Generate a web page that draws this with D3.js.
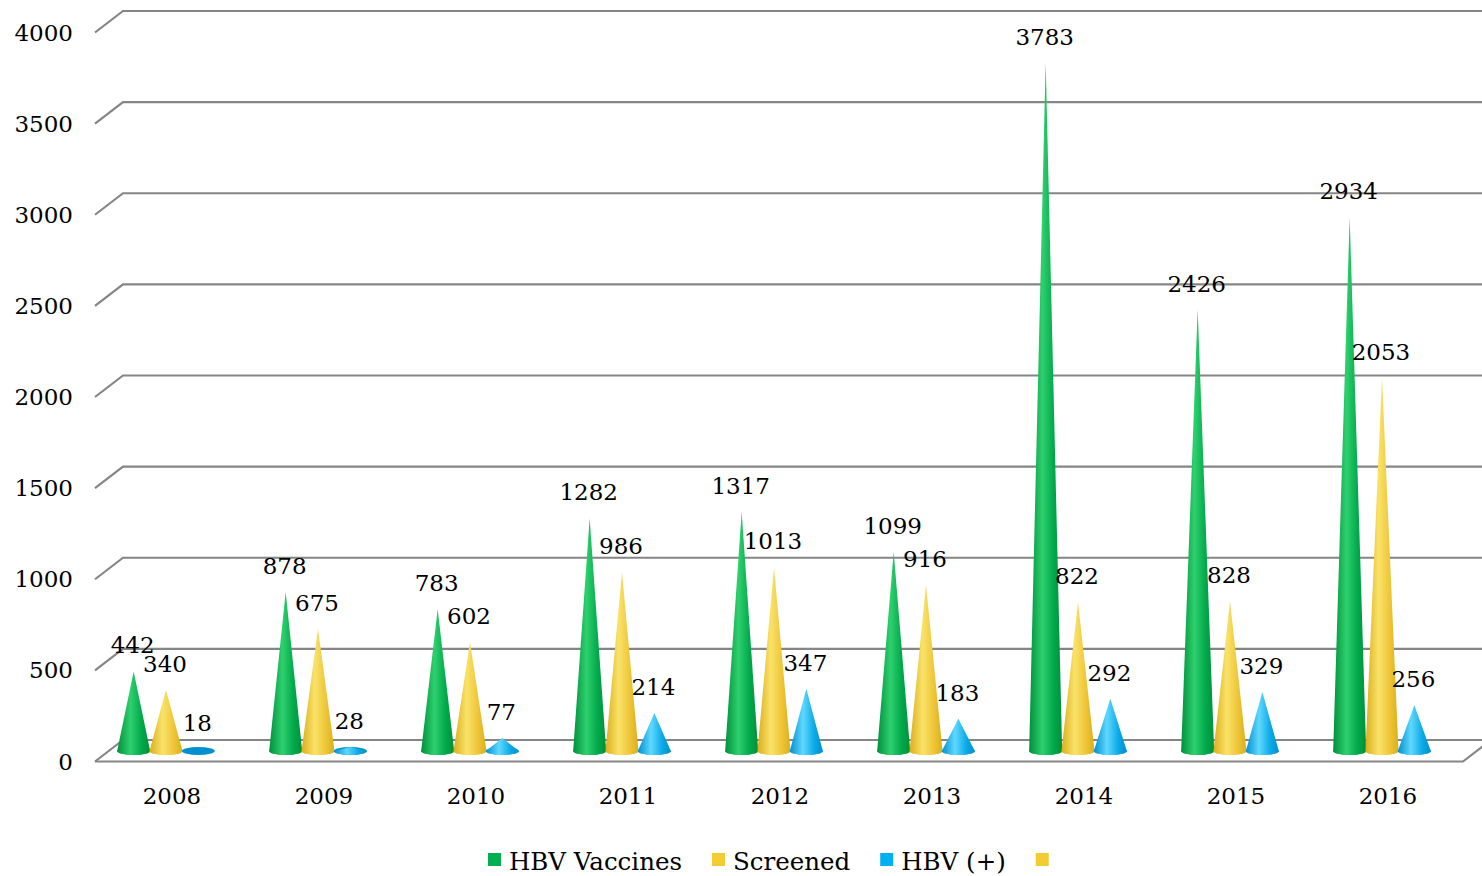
<!DOCTYPE html>
<html>
<head>
<meta charset="utf-8">
<script src="https://cdn.jsdelivr.net/npm/d3@7"></script>
<style>
  body { margin: 0; background: #fff; }
  text { font-family: "DejaVu Serif", serif; fill: #000; }
</style>
</head>
<body>
<div id="chart"></div>
<script>
var years = ["2008", "2009", "2010", "2011", "2012", "2013", "2014", "2015", "2016"];
var vaccines = [442, 878, 783, 1282, 1317, 1099, 3783, 2426, 2934];
var screened = [340, 675, 602, 986, 1013, 916, 822, 828, 2053];
var positive = [18, 28, 77, 214, 347, 183, 292, 329, 256];
var seriesNames = ["HBV Vaccines", "Screened", "HBV (+)", ""];
var yTicks = [0, 500, 1000, 1500, 2000, 2500, 3000, 3500, 4000];

var width = 1482, height = 876;
var depthX = 28, depthY = -21.5;

var svg = d3.select("#chart").append("svg")
  .attr("width", width)
  .attr("height", height);

var x = d3.scaleBand().domain(years).range([96, 1464]);
var y = d3.scaleLinear().domain([0, 4000]).range([761.5, 32.5]);
// cones stand at mid-depth of the floor
var yMid = d3.scaleLinear().domain([0, 4000]).range([752, 752 - 729]);
var inner = d3.scaleBand().domain([0, 1, 2]).range([-48.5, 48.5]);

var colors = [
  {base: "#00b050", dark: "#008f3c", light: "#2fd06e", mid: "#00a84a"},
  {base: "#f2cc30", dark: "#d9ae1c", light: "#fae268", mid: "#eec536"},
  {base: "#00b0f0", dark: "#0090cf", light: "#5fd8ff", mid: "#0aa8e6"},
  {base: "#f2cc30"}
];

var defs = svg.append("defs");
colors.slice(0, 3).forEach(function(c, i){
  var g = defs.append("linearGradient").attr("id", "cone" + i)
    .attr("x1", "0%").attr("x2", "100%").attr("y1", "0%").attr("y2", "0%");
  g.append("stop").attr("offset", "0%").attr("stop-color", c.dark);
  g.append("stop").attr("offset", "40%").attr("stop-color", c.light);
  g.append("stop").attr("offset", "75%").attr("stop-color", c.mid);
  g.append("stop").attr("offset", "100%").attr("stop-color", c.dark);
});

// gridlines: short diagonal on the side wall, then along the back wall
var grid = svg.append("g");
yTicks.forEach(function(t){
  var y0 = y(t);
  grid.append("path")
    .attr("d", "M95," + y0 + "L" + (95 + depthX) + "," + (y0 + depthY) + "L" + (width + 10) + "," + (y0 + depthY))
    .attr("fill", "none")
    .attr("stroke", "#858585")
    .attr("stroke-width", 2.2);
});
// floor front edge
grid.append("path")
  .attr("d", "M95," + y(0) + "L1463," + y(0) + "L" + (1463 + depthX) + "," + (y(0) + depthY))
  .attr("fill", "none")
  .attr("stroke", "#858585")
  .attr("stroke-width", 2.2);

// y axis labels
svg.append("g").selectAll("text")
  .data(yTicks).enter().append("text")
    .attr("x", 73)
    .attr("y", function(d){ return y(d) + 8; })
    .attr("text-anchor", "end")
    .style("font-size", "23px")
    .text(function(d){ return d; });

// x axis labels
svg.append("g").selectAll("text")
  .data(years).enter().append("text")
    .attr("x", function(d){ return x(d) + x.bandwidth() / 2; })
    .attr("y", 804)
    .attr("text-anchor", "middle")
    .style("font-size", "23px")
    .text(function(d){ return d; });

var series = [vaccines, screened, positive];
var rx = 16.5, ry = 4;
var cones = svg.append("g");
var labels = svg.append("g");

years.forEach(function(yr, i){
  var cx0 = x(yr) + x.bandwidth() / 2 - 6;
  series.forEach(function(vals, s){
    var cx = cx0 + inner(s) + inner.bandwidth() / 2;
    var by = yMid(0) - 1;
    var ay = yMid(vals[i]);
    var g = cones.append("g");
    g.append("ellipse")
      .attr("cx", cx).attr("cy", by)
      .attr("rx", rx).attr("ry", ry)
      .attr("fill", vals[i] < 50 ? colors[s].dark : "url(#cone" + s + ")");
    if (by - ay > ry) {
      g.append("path")
        .attr("d", "M" + (cx - rx) + "," + by + "L" + cx + "," + ay + "L" + (cx + rx) + "," + by +
          "A" + rx + "," + ry + " 0 0 1 " + (cx - rx) + "," + by + "Z")
        .attr("fill", "url(#cone" + s + ")");
    }
    labels.append("text")
      .attr("x", cx - 1)
      .attr("y", ay - 18)
      .attr("text-anchor", "middle")
      .style("font-size", "23px")
      .text(vals[i]);
  });
});

// legend
var legend = svg.append("g");
var items = [];
var cursor = 0;
seriesNames.forEach(function(n, i){
  var t = legend.append("text")
    .attr("y", 870)
    .style("font-size", "24.5px")
    .text(n);
  var w = n ? t.node().getComputedTextLength() : 0;
  items.push({sq: cursor, tx: cursor + 21, t: t, c: colors[i].base});
  cursor += 21 + w + 30;
});
var start = 488;
items.forEach(function(it){
  legend.append("rect")
    .attr("x", start + it.sq)
    .attr("y", 853)
    .attr("width", 13)
    .attr("height", 13)
    .attr("fill", it.c);
  it.t.attr("x", start + it.tx);
});
</script>
</body>
</html>
